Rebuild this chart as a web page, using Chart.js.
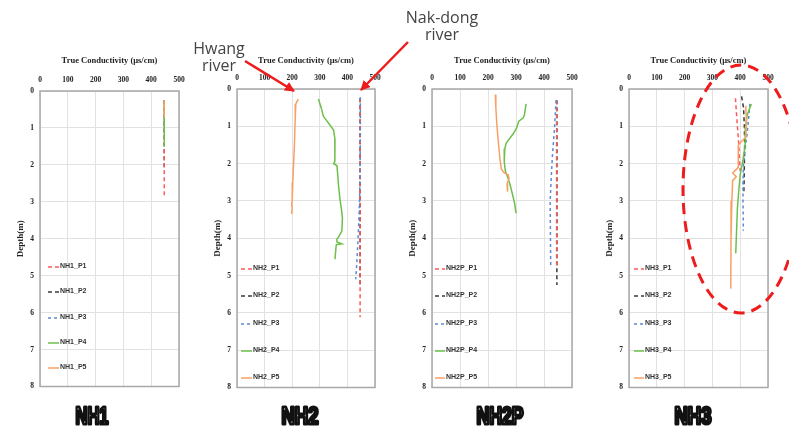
<!DOCTYPE html>
<html>
<head>
<meta charset="utf-8">
<script src="https://cdn.jsdelivr.net/npm/chart.js@4.4.1/dist/chart.umd.min.js"></script>
<style>
  html, body { margin: 0; padding: 0; background: #fff; }
  body { width: 789px; height: 432px; position: relative; overflow: hidden; }
  .panel { position: absolute; }
  .legend { position: absolute; height: 10px; line-height: 10px; white-space: nowrap;
            font: bold 7px "Liberation Sans Narrow", "Liberation Sans", Arial, sans-serif; color: #333; }
  .legend svg { vertical-align: top; }
  #notes { position: absolute; left: 0; top: 0; }
</style>
</head>
<body>
<svg id="notes" width="789" height="432"></svg>
<script>
// axis ticks
const condTicks = [0, 100, 200, 300, 400, 500];
const depthTicks = [0, 1, 2, 3, 4, 5, 6, 7, 8];
const probeNames = ['P1', 'P2', 'P3', 'P4', 'P5'];

// each point: [true conductivity (µs/cm), depth (m)]
const nh1P1 = [[447, 0.25], [447, 2.9]];
const nh1P2 = [[447, 0.25], [447, 2.15]];
const nh1P3 = [[447, 0.25], [447, 1.2]];
const nh1P4 = [[447, 0.25], [447, 1.5]];
const nh1P5 = [[447, 0.25], [447, 0.72]];

const nh2P1 = [[446, 0.25], [446, 2.0], [446, 4.0], [446, 6.12]];
const nh2P2 = [[446, 0.25], [446, 2.5], [446, 5.25]];
const nh2P3 = [[447, 0.22], [447, 1.0], [446, 2.0], [444, 3.0], [440, 3.8], [436, 4.4], [433, 4.8], [430, 5.1]];
const nh2P4 = [[295, 0.27], [305, 0.5], [313, 0.73], [320, 0.8], [340, 1.0], [350, 1.1], [355, 1.35], [355, 1.7],
               [354, 1.95], [350, 2.0], [362, 2.05], [365, 2.3], [368, 2.6], [373, 2.95], [378, 3.2], [382, 3.46],
               [380, 3.8], [368, 3.97], [362, 4.02], [362, 4.1], [380, 4.15], [360, 4.17], [358, 4.3], [355, 4.56]];
const nh2P5 = [[222, 0.27], [213, 0.4], [211, 0.8], [208, 1.5], [205, 2.0], [202, 2.5], [200, 3.0], [198, 3.1],
               [200, 3.2], [198, 3.35]];

const nh2pP1 = [[445, 0.3], [445, 2.0], [445, 4.75]];
const nh2pP2 = [[446, 0.3], [446, 2.5], [446, 5.25]];
const nh2pP3 = [[443, 0.3], [438, 1.0], [430, 1.8], [425, 2.5], [422, 3.0], [423, 4.0], [424, 4.75]];
const nh2pP4 = [[336, 0.4], [330, 0.7], [326, 0.77], [310, 0.86], [302, 1.05], [290, 1.2], [265, 1.45], [260, 1.6],
                [258, 1.95], [262, 2.2], [272, 2.4], [280, 2.6], [290, 2.9], [296, 3.1], [300, 3.33]];
const nh2pP5 = [[226, 0.15], [228, 0.5], [232, 1.0], [238, 1.5], [243, 1.9], [248, 2.15], [258, 2.25], [272, 2.3],
                [275, 2.4], [268, 2.55], [270, 2.75]];

const nh3P1 = [[383, 0.25], [386, 0.6], [390, 1.0], [395, 1.5], [398, 2.0], [400, 2.2]];
const nh3P2 = [[405, 0.2], [412, 0.5], [415, 1.0], [416, 1.5], [415, 2.0], [414, 2.5], [413, 2.8]];
const nh3P3 = [[435, 0.4], [430, 0.8], [425, 1.2], [418, 1.6], [412, 2.0], [410, 2.5], [410, 3.0], [411, 3.5], [411, 3.8]];
const nh3P4 = [[440, 0.4], [425, 0.7], [420, 1.0], [418, 1.5], [410, 1.9], [400, 2.3], [395, 2.7], [390, 3.2],
               [387, 3.8], [384, 4.4]];
const nh3P5 = [[420, 0.45], [422, 0.8], [420, 1.3], [405, 1.4], [393, 1.5], [393, 2.1], [373, 2.25], [386, 2.35],
               [373, 2.45], [370, 3.0], [367, 4.0], [366, 5.35]];

const probeStyles = [
  { color: '#ff5858', dash: [4, 3] },
  { color: '#3a3a3a', dash: [4, 3] },
  { color: '#5a8ad6', dash: [3, 3] },
  { color: '#6cc04a', dash: [] },
  { color: '#f8a064', dash: [] }
];
// P2 sits under P1 so the red dashes stay visible, the rest stack upward
const probeOrder = [3, 4, 2, 1, 0];

const panels = [
  { name: 'NH1', plot: [40, 91, 179, 391], series: [nh1P1, nh1P2, nh1P3, nh1P4, nh1P5],
    legendX: [48, 59], legendY: 267, legendStep: 25.3, labelX: 92, labelW: 33 },
  { name: 'NH2', plot: [237, 89, 375, 392], series: [nh2P1, nh2P2, nh2P3, nh2P4, nh2P5],
    legendX: [241, 252], legendY: 269.3, legendStep: 27.1, labelX: 300, labelW: 37 },
  { name: 'NH2P', plot: [432, 89, 572, 392], series: [nh2pP1, nh2pP2, nh2pP3, nh2pP4, nh2pP5],
    legendX: [435, 445], legendY: 269.3, legendStep: 27.1, labelX: 500, labelW: 47 },
  { name: 'NH3', plot: [629, 89, 768, 392], series: [nh3P1, nh3P2, nh3P3, nh3P4, nh3P5],
    legendX: [634, 644], legendY: 269.3, legendStep: 27.1, labelX: 693, labelW: 37 }
];

const serif = '"Liberation Serif", "Times New Roman", serif';

const plotBorder = {
  id: 'plotBorder',
  beforeDatasetsDraw(chart) {
    const a = chart.chartArea, c = chart.ctx;
    c.save();
    c.strokeStyle = '#a8a8a8';
    c.lineWidth = 1.5;
    c.strokeRect(a.left, a.top, a.right - a.left, a.bottom - a.top);
    c.restore();
  }
};

const padL = 30, padT = 40, padR = 12, padB = 6;

panels.forEach(p => {
  const [l, t, r, b] = p.plot;
  const box = document.createElement('div');
  box.className = 'panel';
  box.style.left = (l - padL) + 'px';
  box.style.top = (t - padT) + 'px';
  const canvas = document.createElement('canvas');
  canvas.width = r - l + padL + padR;
  canvas.height = b - t + padT + padB;
  box.appendChild(canvas);
  document.body.insertBefore(box, document.getElementById('notes'));

  new Chart(canvas, {
    type: 'scatter',
    data: {
      datasets: p.series.map((pts, i) => ({
        label: p.name + '_' + probeNames[i],
        data: pts.map(([x, y]) => ({ x, y })),
        showLine: true,
        pointRadius: 0,
        borderWidth: 1.5,
        borderColor: probeStyles[i].color,
        borderDash: probeStyles[i].dash,
        order: probeOrder[i]
      }))
    },
    options: {
      responsive: false,
      animation: false,
      layout: { padding: { left: 0, top: 0, right: padR, bottom: padB } },
      plugins: { legend: { display: false }, tooltip: { enabled: false } },
      scales: {
        x: {
          position: 'top', min: 0, max: 500,
          afterBuildTicks: s => { s.ticks = condTicks.map(v => ({ value: v })); },
          afterFit: s => { s.height = padT; },
          grid: { color: '#e2e2e2', drawTicks: false },
          border: { display: false },
          ticks: { autoSkip: false, maxRotation: 0, padding: 6, color: '#222',
                   font: { family: serif, size: 7.5, weight: 'bold' } },
          title: { display: true, text: 'True Conductivity (μs/cm)', color: '#222',
                   font: { family: serif, size: 8.5, weight: 'bold' },
                   padding: { top: 61 - (t - padT) - 5.1, bottom: 0 } }
        },
        y: {
          reverse: true, min: 0, max: 8,
          afterBuildTicks: s => { s.ticks = depthTicks.map(v => ({ value: v })); },
          afterFit: s => { s.width = padL; },
          grid: { color: '#e2e2e2', drawTicks: false },
          border: { display: false },
          ticks: { autoSkip: false, padding: 6, color: '#222',
                   font: { family: serif, size: 7.5, weight: 'bold' } },
          title: { display: true, text: 'Depth(m)', color: '#222',
                   font: { family: serif, size: 9, weight: 'bold' },
                   padding: { top: 5, bottom: 0 } }
        }
      }
    },
    plugins: [plotBorder]
  });

  // legend inside the plot area
  p.series.forEach((pts, i) => {
    const st = probeStyles[i];
    const w = p.legendX[1] - p.legendX[0];
    const item = document.createElement('div');
    item.className = 'legend';
    item.style.left = p.legendX[0] + 'px';
    item.style.top = (p.legendY + p.legendStep * i - 5) + 'px';
    item.innerHTML = `<svg width="${w}" height="10"><line x1="0" y1="5" x2="${w}" y2="5" stroke="${st.color}"
      stroke-width="1.5" stroke-dasharray="${st.dash.join(' ')}"/></svg><span style="margin-left:1px">${p.name}_${probeNames[i]}</span>`;
    document.body.appendChild(item);
  });
});

// annotations and panel labels
const notes = document.getElementById('notes');
document.body.appendChild(notes);
let svg = `<defs><marker id="ah" viewBox="0 0 10 10" refX="9" refY="5" markerWidth="4" markerHeight="4" orient="auto">
  <path d="M0,0 L10,5 L0,10 z" fill="#ee1c1c"/></marker></defs>
  <g font-family="'Open Sans', 'Noto Sans', sans-serif" font-size="16" fill="#444" text-anchor="middle">
    <text x="219" y="54">Hwang</text><text x="219" y="71">river</text>
    <text x="442" y="23">Nak-dong</text><text x="442" y="40">river</text>
  </g>
  <line x1="245" y1="61" x2="294" y2="91" stroke="#ee1c1c" stroke-width="2.5" marker-end="url(#ah)"/>
  <line x1="408" y1="42" x2="361" y2="90" stroke="#ee1c1c" stroke-width="2.5" marker-end="url(#ah)"/>
  <ellipse cx="741" cy="189" rx="58" ry="124" fill="none" stroke="#ee1c1c" stroke-width="3" stroke-dasharray="11 7"/>`;
panels.forEach(p => {
  svg += `<text x="${p.labelX}" y="424" text-anchor="middle" textLength="${p.labelW}" lengthAdjust="spacingAndGlyphs"
    font-family="'Liberation Sans Narrow', 'Liberation Sans', Arial, sans-serif" font-weight="bold" font-size="23"
    fill="#fff" stroke="#111" stroke-width="3.2" stroke-linejoin="round">${p.name}</text>`;
});
notes.innerHTML = svg;
</script>
</body>
</html>
